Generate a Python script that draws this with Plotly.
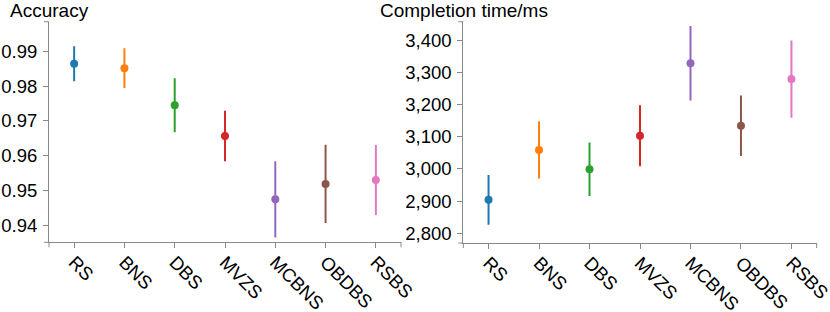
import plotly.graph_objects as go

categories = ["RS", "BNS", "DBS", "MVZS", "MCBNS", "OBDBS", "RSBS"]
colors = ["#1f77b4", "#ff7f0e", "#2ca02c", "#d62728", "#9467bd", "#8c564b", "#e377c2"]

accuracy_mean = [0.9864, 0.9851, 0.9745, 0.9657, 0.9476, 0.9520, 0.9531]
accuracy_err = [0.0050, 0.0057, 0.0077, 0.0072, 0.0109, 0.0112, 0.0100]

time_mean = [2904, 3059, 2999, 3103, 3328, 3134, 3279]
time_err = [77, 89, 83, 95, 116, 94, 120]

W, H = 830, 312
FONT = "Liberation Sans, Arial, Helvetica, sans-serif"
AXC = "#888888"
TICK_SIZE = 18.5

fig = go.Figure()

for i, cat in enumerate(categories):
    fig.add_trace(go.Scatter(
        x=[cat], y=[accuracy_mean[i]], mode="markers",
        marker=dict(color=colors[i], size=8, line=dict(width=0)),
        error_y=dict(type="data", array=[accuracy_err[i]], color=colors[i],
                     thickness=2, width=0),
        xaxis="x", yaxis="y", showlegend=False, hoverinfo="x+y"))
    fig.add_trace(go.Scatter(
        x=[cat], y=[time_mean[i]], mode="markers",
        marker=dict(color=colors[i], size=8, line=dict(width=0)),
        error_y=dict(type="data", array=[time_err[i]], color=colors[i],
                     thickness=2, width=0),
        xaxis="x2", yaxis="y2", showlegend=False, hoverinfo="x+y"))

common_x = dict(type="category", categoryorder="array", categoryarray=categories,
                range=[-0.5, len(categories) - 0.5], showline=True, linecolor=AXC,
                linewidth=1, ticks="outside", ticklen=5, tickcolor=AXC, tickwidth=1,
                tickangle=45, showgrid=False, zeroline=False, ticklabelstandoff=-4,
                tickfont=dict(family=FONT, size=TICK_SIZE, color="#000"))
common_y = dict(showline=True, linecolor=AXC, linewidth=1, ticks="outside",
                ticklen=5, tickcolor=AXC, tickwidth=1, showgrid=False,
                zeroline=False, ticklabelstandoff=2,
                tickfont=dict(family=FONT, size=TICK_SIZE, color="#000"))

fig.update_layout(
    width=W, height=H,
    margin=dict(l=0, r=0, t=0, b=0, autoexpand=False),
    paper_bgcolor="white", plot_bgcolor="white",
    xaxis=dict(common_x, domain=[49 / W, 401 / W], anchor="y"),
    xaxis2=dict(common_x, domain=[463.3 / W, 816.7 / W], anchor="y2"),
    yaxis=dict(common_y, domain=[(H - 242.3) / H, (H - 21.7) / H], anchor="x",
               range=[0.9353, 0.9984], dtick=0.01, tick0=0.94, tickformat=".2f"),
    yaxis2=dict(common_y, domain=[(H - 243) / H, (H - 21.7) / H], anchor="x2",
                range=[2770, 3457], dtick=100, tick0=2800, tickformat=","),
    annotations=[
        dict(text="Accuracy", xref="paper", yref="paper", x=8 / W, y=1 - 10 / H,
             xanchor="left", yanchor="middle", showarrow=False,
             font=dict(family=FONT, size=19, color="#000")),
        dict(text="Completion time/ms", xref="paper", yref="paper", x=378 / W,
             y=1 - 10 / H, xanchor="left", yanchor="middle", showarrow=False,
             font=dict(family=FONT, size=19, color="#000")),
    ],
)

# outer (end) ticks of the axis domains
shapes = []
for xr, yr in (("x domain", "y domain"), ("x2 domain", "y2 domain")):
    for xv in (0, 1):
        shapes.append(dict(type="line", xref=xr, yref=yr, x0=xv, x1=xv,
                           ysizemode="pixel", yanchor=0, y0=0, y1=-5,
                           line=dict(color=AXC, width=1)))
    for yv in (0, 1):
        shapes.append(dict(type="line", xref=xr, yref=yr, y0=yv, y1=yv,
                           xsizemode="pixel", xanchor=0, x0=0, x1=-5,
                           line=dict(color=AXC, width=1)))
fig.update_layout(shapes=shapes)

fig.write_html("out.html", config={"displayModeBar": False},
               post_script="document.body.style.margin='0px';document.body.style.padding='0px';")
